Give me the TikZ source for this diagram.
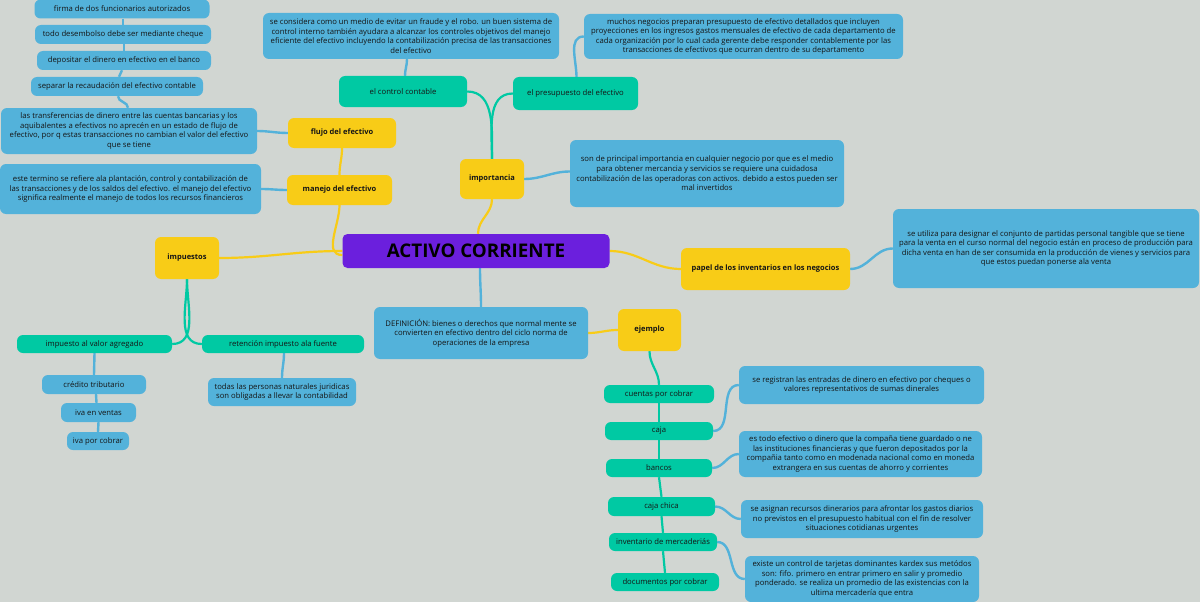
\documentclass[tikz,border=0pt]{standalone}
\usepackage{fontspec}
\setmainfont{Open Sans}
\definecolor{bg}{HTML}{D1D6D2}
\definecolor{cblue}{HTML}{53B2DA}
\definecolor{cteal}{HTML}{00C9A3}
\definecolor{cyel}{HTML}{F8CC17}
\definecolor{cpur}{HTML}{6B1FDD}
\definecolor{ctxt}{HTML}{151515}
\pgfdeclarelayer{backmost}
\pgfdeclarelayer{lines}
\pgfsetlayers{backmost,lines,main}
\tikzset{
  base/.style={rounded corners=6pt, inner sep=0pt, align=center, text=ctxt,
    font=\fontsize{7.7}{9.6}\selectfont},
  bbox/.style={base, fill=cblue},
  tbox/.style={base, fill=cteal},
  ybox/.style={base, fill=cyel, font=\fontsize{7.5}{9.6}\selectfont\bfseries},
  pbox/.style={base, fill=cpur, rounded corners=5pt, text=black, font=\fontsize{18.8}{22}\selectfont\bfseries},
  bline/.style={draw=cblue, line width=2.4pt},
  tline/.style={draw=cteal, line width=2.2pt},
  yline/.style={draw=cyel, line width=2.2pt},
}
\newcommand{\bx}[6]{\node[#1, minimum width=#4, minimum height=#5] (#2) at (#3) {#6};}
\begin{document}
\begin{tikzpicture}[x=1pt,y=-1pt]
\useasboundingbox (0,0) rectangle (1200,602);
\begin{pgfonlayer}{backmost}
\fill[bg] (0,0) rectangle (1200,602);
\end{pgfonlayer}

\bx{pbox}{center}{476,251}{267}{34}{ACTIVO CORRIENTE}

\bx{bbox}{c1}{122,9}{175}{19}{firma de dos funcionarios autorizados}
\bx{bbox}{c2}{123,34.5}{176}{19}{todo desembolso debe ser mediante cheque}
\bx{bbox}{c3}{124,60.5}{174}{19}{depositar el dinero en efectivo en el banco}
\bx{bbox}{c4}{117,86.5}{172}{19}{separar la recaudación del efectivo contable}
\bx{bbox}{tr}{129,131}{256}{46}{las transferencias de dinero entre las cuentas bancarias y los\\aquibalentes a efectivos no aprecén en un estado de flujo de\\efectivo, por q estas transacciones no cambian el valor del efectivo\\que se tiene}
\bx{ybox}{flujo}{342,133}{108}{30}{flujo del efectivo}
\bx{bbox}{te}{130.5,189}{261}{50}{este termino se refiere ala plantación, control y contabilización de\\las transacciones y de los saldos del efectivo. el manejo del efectivo\\significa realmente el manejo de todos los recursos financieros}
\bx{ybox}{manejo}{339.5,190}{105}{30}{manejo del efectivo}
\bx{ybox}{imp}{187,258}{64}{42}{impuestos}
\bx{tbox}{iva}{94.5,344}{155}{18}{impuesto al valor agregado}
\bx{tbox}{ret}{283,344}{162}{18}{retención impuesto ala fuente}
\bx{bbox}{cred}{94,384.5}{104}{19}{crédito tributario}
\bx{bbox}{ivav}{98.5,412.5}{75}{19}{iva en ventas}
\bx{bbox}{ivac}{98,441}{62}{18}{iva por cobrar}
\bx{bbox}{todas}{282,392}{148}{28}{todas las personas naturales juridicas\\son obligadas a llevar la contabilidad}

\bx{bbox}{secons}{411,36}{296}{46}{se considera como un medio de evitar un fraude y el robo. un buen sistema de\\control interno también ayudara a alcanzar los controles objetivos del manejo\\eficiente del efectivo incluyendo la contabilización precisa de las transacciones\\del efectivo}
\bx{tbox}{control}{403,91.5}{128}{31}{el control contable}
\bx{tbox}{presu}{575.5,93.5}{125}{33}{el presupuesto del efectivo}
\bx{bbox}{muchos}{743.5,36.5}{319}{45}{muchos negocios preparan presupuesto de efectivo detallados que incluyen\\proyecciones en los ingresos gastos mensuales de efectivo de cada departamento de\\cada organización por lo cual cada gerente debe responder contablemente por las\\transacciones de efectivos que ocurran dentro de su departamento}
\bx{ybox}{impo}{492,179}{64}{40}{importancia}
\bx{bbox}{son}{707,173.5}{274}{67}{son de principal importancia en cualquier negocio por que es el medio\\para obtener mercancia y servicios se requiere una cuidadosa\\contabilización de las operadoras con activos. debido a estos pueden ser\\mal invertidos}
\bx{ybox}{papel}{765.5,269}{169}{42}{papel de los inventarios en los negocios}
\bx{bbox}{seutil}{1046,248.5}{306}{79}{se utiliza para designar el conjunto de partidas personal tangible que se tiene\\para la venta en el curso normal del negocio están en proceso de producción para\\dicha venta en han de ser consumida en la producción de vienes y servicios para\\que estos puedan ponerse ala venta}
\bx{bbox}{defi}{481,333}{214}{52}{DEFINICIÓN: bienes o derechos que normal mente se\\convierten en efectivo dentro del ciclo norma de\\operaciones de la empresa}
\bx{ybox}{ejem}{649.5,330}{63}{42}{ejemplo}

\bx{tbox}{cxc}{659,394}{110}{18}{cuentas por cobrar}
\bx{tbox}{caja}{659,431}{108}{18}{caja}
\bx{tbox}{bancos}{659,468}{106}{18}{bancos}
\bx{tbox}{cchica}{661.5,506.5}{107}{19}{caja chica}
\bx{tbox}{inv}{663,542}{108}{18}{inventario de mercaderiás}
\bx{tbox}{doc}{665,582}{108}{18}{documentos por cobrar}
\bx{bbox}{sereg}{861.5,385}{245}{38}{se registran las entradas de dinero en efectivo por cheques o\\valores representativos de sumas dinerales}
\bx{bbox}{estodo}{860.5,454}{243}{46}{es todo efectivo o dinero que la compaña tiene guardado o ne\\las instituciones financieras y que fueron depositados por la\\compañia tanto como en modenada nacional como en moneda\\extrangera en sus cuentas de ahorro y corrientes}
\bx{bbox}{seasig}{862,519}{242}{38}{se asignan recursos dinerarios para afrontar los gastos diarios\\no previstos en el presupuesto habitual con el fin de resolver\\situaciones cotidianas urgentes}
\bx{bbox}{existe}{862,579}{234}{46}{existe un control de tarjetas dominantes kardex sus metódos\\son: fifo. primero en entrar primero en salir y promedio\\ponderado. se realiza un promedio de las existencias con la\\ultima mercadería que entra}

\begin{pgfonlayer}{lines}
% left chain
\draw[bline] ([xshift=1]c1.south) -- ([xshift=0]c2.north);
\draw[bline] ([xshift=1]c2.south) -- ([xshift=0]c3.north);
\draw[bline] ([xshift=-2]c3.south) to[out=-90,in=90] ([xshift=2]c4.north);
\draw[bline] ([xshift=1]c4.south) to[out=-90,in=90] ([xshift=-1]tr.north);
\draw[bline] (tr.east) to[out=0,in=180] (flujo.west);
\draw[yline] (flujo.south) to[out=-90,in=90] (manejo.north);
\draw[bline] (te.east) to[out=0,in=180] (manejo.west);
\draw[yline] (manejo.south) to[out=-90,in=180] ([yshift=-4]center.west);
\draw[yline] (center.west) to[out=180,in=0] (imp.east);
\draw[tline] (imp.south) to[out=-90,in=0] (iva.east);
\draw[tline] (imp.south) to[out=-90,in=180] (ret.west);
\draw[bline] (iva.south) -- (cred.north);
\draw[bline] ([xshift=2]cred.south) -- ([xshift=-2]ivav.north);
\draw[bline] (ivav.south) -- (ivac.north);
\draw[bline] ([xshift=1]ret.south) to[out=-90,in=90] (todas.north);
% top
\draw[yline] ([xshift=2]center.north) to[out=90,in=-90] (impo.south);
\draw[tline] (impo.north) to[out=90,in=0] (control.east);
\draw[tline] (impo.north) to[out=90,in=180] (presu.west);
\draw[bline] ([xshift=2]control.north) to[out=90,in=-90] ([xshift=-4]secons.south);
\draw[bline] ([xshift=1]presu.north) to[out=90,in=180] (muchos.west);
\draw[bline] (impo.east) to[out=0,in=180] ([yshift=2]son.west);
% right
\draw[yline] (center.east) to[out=0,in=180] (papel.west);
\draw[bline] (papel.east) to[out=0,in=180] (seutil.west);
% bottom
\draw[bline] ([xshift=4]center.south) to[out=-90,in=90] (defi.north);
\draw[yline] (defi.east) to[out=0,in=180] (ejem.west);
\draw[tline] (ejem.south) to[out=-90,in=90] (cxc.north);
\draw[tline] (cxc.south) -- (caja.north);
\draw[tline] (caja.south) -- (bancos.north);
\draw[tline] (bancos.south) -- (cchica.north);
\draw[tline] (cchica.south) -- (inv.north);
\draw[tline] (inv.south) -- (doc.north);
\draw[bline] (caja.east) to[out=0,in=180] (sereg.west);
\draw[bline] (bancos.east) to[out=0,in=180] (estodo.west);
\draw[bline] (cchica.east) to[out=0,in=180] (seasig.west);
\draw[bline] (inv.east) to[out=0,in=180] (existe.west);
\end{pgfonlayer}
\end{tikzpicture}
\end{document}
